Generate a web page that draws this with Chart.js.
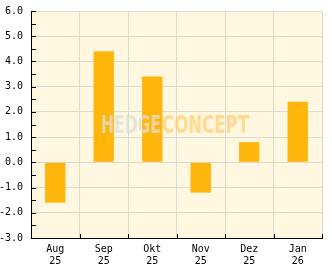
<!DOCTYPE html>
<html lang="de">
<head>
<meta charset="utf-8">
<title>Monatsrenditen</title>
<script src="https://cdn.jsdelivr.net/npm/chart.js@4/dist/chart.umd.min.js"></script>
<style>
  html, body { margin: 0; padding: 0; background: #fff; }
  #wrap { width: 332px; height: 269px; }
</style>
</head>
<body>
<div id="wrap"><canvas id="mycanvas" width="332" height="269"></canvas></div>
<script>
// data
const months = [["Aug", "25"], ["Sep", "25"], ["Okt", "25"], ["Nov", "25"], ["Dez", "25"], ["Jan", "26"]];
const returns = [-1.6, 4.4, 3.4, -1.2, 0.8, 2.4];
const yMin = -3, yMax = 6, yStep = 0.5;
const markText = ["HEDGE", "CONCEPT"];

const FONT = "'DejaVu Sans Mono', monospace";

// inward tick marks on both axes + watermark
const extras = {
  id: 'extras',
  afterDatasetsDraw(chart) {
    const c = chart.ctx, a = chart.chartArea;
    const y = chart.scales.y, x = chart.scales.x;
    c.save();
    c.strokeStyle = '#000';
    c.lineWidth = 1;
    c.beginPath();
    for (let v = yMin; v <= yMax + 1e-9; v += yStep) {
      const py = Math.round(y.getPixelForValue(v)) + 0.5;
      c.moveTo(a.left, py); c.lineTo(a.left + 5, py);
    }
    for (let i = 1; i <= months.length; i++) {
      const px = Math.round(x.getPixelForValue(i - 0.5)) + 0.5;
      c.moveTo(px, a.bottom); c.lineTo(px, a.bottom - 4);
    }
    c.stroke();

    // watermark
    c.font = "bold 25px 'DejaVu Sans', sans-serif";
    c.textBaseline = 'alphabetic';
    c.fillStyle = 'rgba(225,222,215,0.75)';
    c.fillText(markText[0], 101, 133, 60);
    c.fillStyle = 'rgba(255,205,110,0.7)';
    c.fillText(markText[1], 162, 133, 87);
    c.restore();
  }
};

const plotBg = {
  id: 'plotBg',
  beforeDraw(chart) {
    const c = chart.ctx, a = chart.chartArea;
    c.save();
    c.fillStyle = '#FFF7E0';
    c.fillRect(a.left, a.top, a.right - a.left, a.bottom - a.top);
    c.restore();
  }
};

new Chart(document.getElementById('mycanvas'), {
  type: 'bar',
  data: {
    labels: months,
    datasets: [{
      data: returns,
      backgroundColor: '#FFB60C',
      borderWidth: 0,
      categoryPercentage: 1,
      barPercentage: 0.42
    }]
  },
  options: {
    responsive: false,
    animation: false,
    layout: { padding: { left: 0, top: 11, right: 10, bottom: 0 } },
    plugins: { legend: { display: false }, tooltip: { enabled: false } },
    scales: {
      x: {
        offset: true,
        grid: { offset: true, color: '#DEDAD0', drawTicks: false },
        border: { color: '#000', width: 1 },
        ticks: { color: '#000', font: { family: FONT, size: 10 }, padding: 5, maxRotation: 0 },
        afterFit(s) { s.height = 31; s.paddingLeft = 0; s.paddingRight = 0; }
      },
      y: {
        min: yMin, max: yMax,
        grid: {
          drawTicks: false,
          color: ctx => (ctx.tick && Math.abs(ctx.tick.value % 1) < 1e-9) ? '#DEDAD0' : 'rgba(0,0,0,0)'
        },
        border: { color: '#000', width: 1 },
        ticks: {
          stepSize: yStep,
          autoSkip: false,
          color: '#000',
          font: { family: FONT, size: 10 },
          padding: 8,
          callback: v => Math.abs(v % 1) < 1e-9 ? v.toFixed(1) : ''
        },
        afterFit(s) { s.width = 31; s.paddingTop = 0; s.paddingBottom = 0; }
      }
    }
  },
  plugins: [plotBg, extras]
});
</script>
</body>
</html>
